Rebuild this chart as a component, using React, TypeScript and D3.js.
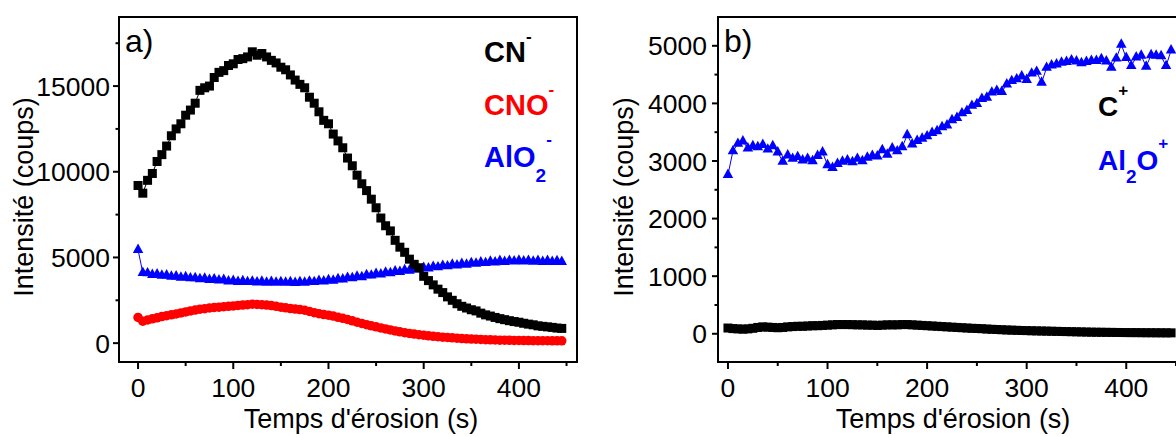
import React from "react";
import * as d3 from "d3";

const FONT = "'Liberation Sans', Arial, Helvetica, sans-serif";

// time (s)
const time = [
  0, 5, 10, 15, 20, 25, 30, 35, 40, 45, 50, 55, 60, 65, 70, 75, 80, 85, 90, 95,
  100, 105, 110, 115, 120, 125, 130, 135, 140, 145, 150, 155, 160, 165, 170, 175, 180, 185, 190, 195,
  200, 205, 210, 215, 220, 225, 230, 235, 240, 245, 250, 255, 260, 265, 270, 275, 280, 285, 290, 295,
  300, 305, 310, 315, 320, 325, 330, 335, 340, 345, 350, 355, 360, 365, 370, 375, 380, 385, 390, 395,
  400, 405, 410, 415, 420, 425, 430, 435, 440, 445,
];

// panel a)
const cnMinus = [
  9200, 8750, 9500, 9900, 10600, 11000, 11500, 12100, 12500, 12800, 13300, 13600, 14000, 14750, 14900, 15000, 15500, 15800, 15900, 16200,
  16300, 16550, 16600, 16700, 17000, 16800, 16900, 16700, 16500, 16350, 16100, 15950, 15650, 15350, 15100, 14900, 14350, 14000, 13500, 13000,
  12800, 12200, 11800, 11400, 10800, 10350, 9800, 9300, 8900, 8400, 7900, 7300, 6850, 6550, 6000, 5600, 5300, 4900, 4600, 4400,
  3900, 3650, 3400, 3150, 2950, 2700, 2500, 2300, 2150, 2050, 1950, 1880, 1750, 1650, 1580, 1500, 1430, 1370, 1310, 1260,
  1220, 1160, 1110, 1070, 1010, 980, 950, 920, 880, 860,
];
const cnoMinus = [
  1500, 1280, 1350, 1420, 1480, 1550, 1600, 1650, 1700, 1760, 1820, 1880, 1930, 1980, 2010, 2050, 2080, 2100, 2130, 2150,
  2170, 2200, 2220, 2240, 2270, 2260, 2240, 2220, 2190, 2150, 2100, 2060, 2020, 1990, 1960, 1920, 1850, 1780, 1720, 1670,
  1630, 1580, 1510, 1450, 1380, 1300, 1220, 1150, 1080, 1010, 950, 890, 830, 770, 710, 660, 610, 570, 530, 490,
  460, 430, 400, 380, 350, 330, 310, 290, 270, 250, 240, 230, 215, 205, 195, 185, 175, 170, 165, 160,
  155, 150, 148, 145, 143, 140, 140, 138, 136, 135,
];
const alo2Minus = [
  5450, 4100, 4080, 3990, 4020, 3940, 3960, 3880, 3900, 3830, 3860, 3790, 3800, 3740, 3770, 3700, 3730, 3670, 3690, 3610,
  3640, 3580, 3620, 3570, 3600, 3550, 3590, 3540, 3580, 3530, 3570, 3530, 3560, 3520, 3570, 3540, 3600, 3570, 3640, 3610,
  3680, 3650, 3740, 3720, 3820, 3800, 3890, 3860, 3970, 3950, 4050, 4010, 4120, 4090, 4190, 4160, 4260, 4230, 4320, 4300,
  4390, 4360, 4460, 4430, 4520, 4490, 4580, 4540, 4630, 4590, 4680, 4640, 4720, 4680, 4760, 4720, 4800, 4750, 4810, 4770,
  4820, 4770, 4810, 4760, 4810, 4750, 4800, 4740, 4790, 4750,
];

// panel b)
const cPlus = [
  100, 90, 85, 80, 85, 95, 110, 120, 115, 110, 105, 110, 120, 125, 130, 130, 135, 140, 140, 145,
  150, 155, 160, 160, 160, 158, 155, 155, 150, 150, 145, 150, 155, 155, 155, 160, 160, 155, 150, 145,
  140, 135, 130, 125, 120, 115, 110, 105, 100, 95, 92, 88, 82, 78, 74, 70, 66, 63, 60, 57,
  55, 52, 50, 48, 46, 44, 42, 40, 38, 36, 34, 32, 30, 28, 27, 26, 25, 24, 23, 22,
  21, 20, 20, 19, 18, 18, 17, 17, 16, 16,
];
const al2oPlus = [
  2760, 3170, 3300, 3340, 3220, 3260, 3240, 3280, 3200, 3260, 3150, 2990, 3100, 3040, 3070, 3010, 3040, 3000, 3090, 3150,
  2930, 2880, 2950, 2990, 3010, 2980, 3040, 3000, 3060, 3090, 3080, 3190, 3110, 3220, 3170, 3240, 3450, 3290, 3350, 3390,
  3430, 3490, 3520, 3590, 3620, 3710, 3750, 3830, 3870, 3960, 3990, 4080, 4100, 4190, 4220, 4200, 4330, 4390, 4420, 4470,
  4410, 4520, 4550, 4360, 4620, 4660, 4680, 4710, 4720, 4750, 4730, 4700, 4720, 4740, 4740, 4770, 4730, 4620, 4780, 5020,
  4790, 4650, 4800, 4830, 4640, 4840, 4830, 4820, 4650, 4920,
];

const xMajor = [0, 100, 200, 300, 400];
const xMinor = [50, 150, 250, 350, 450];
const yMajorA = [0, 5000, 10000, 15000];
const yMinorA = [2500, 7500, 12500, 17500];
const yMajorB = [0, 1000, 2000, 3000, 4000, 5000];
const yMinorB = [500, 1500, 2500, 3500, 4500];

type Series = { values: number[]; color: string; shape: "square" | "circle" | "triangle"; size: number };

function Marker({ shape, cx, cy, size, color }: { shape: string; cx: number; cy: number; size: number; color: string }) {
  if (shape === "square")
    return <rect x={cx - size / 2} y={cy - size / 2} width={size} height={size} fill={color} />;
  if (shape === "circle") return <circle cx={cx} cy={cy} r={size / 2} fill={color} />;
  const h = size * 0.9;
  const pts = `${cx},${cy - (h * 2) / 3} ${cx + size / 2},${cy + h / 3} ${cx - size / 2},${cy + h / 3}`;
  return <polygon points={pts} fill={color} />;
}

function Panel(props: {
  left: number; top: number; right: number; bottom: number;
  xDomain: [number, number]; yDomain: [number, number];
  yMajor: number[]; yMinor: number[];
  series: Series[]; tag: string; yTitleX: number; xTitleX: number; labelGap: number;
  children?: React.ReactNode;
}) {
  const { left, top, right, bottom } = props;
  const x = d3.scaleLinear().domain(props.xDomain).range([left, right]);
  const y = d3.scaleLinear().domain(props.yDomain).range([bottom, top]);
  const line = d3.line<number>().x((_, i) => x(time[i])).y((d) => y(d));
  const fs = 26.5;
  return (
    <g>
      {props.series.map((s, si) => (
        <g key={si}>
          <path d={line(s.values) || ""} fill="none" stroke={s.color} strokeWidth={1} />
          {s.values.map((v, i) => (
            <Marker key={i} shape={s.shape} cx={x(time[i])} cy={y(v)} size={s.size} color={s.color} />
          ))}
        </g>
      ))}
      <rect x={left} y={top} width={right - left} height={bottom - top} fill="none" stroke="#000" strokeWidth={2} />
      {xMajor.map((t) => (
        <g key={"xm" + t}>
          <line x1={x(t)} x2={x(t)} y1={bottom} y2={bottom + 7} stroke="#000" strokeWidth={2} />
          <text x={x(t)} y={397} textAnchor="middle" fontSize={fs} fontFamily={FONT}>{t}</text>
        </g>
      ))}
      {xMinor.map((t) => (
        <line key={"xn" + t} x1={x(t)} x2={x(t)} y1={bottom} y2={bottom + 4} stroke="#000" strokeWidth={2} />
      ))}
      {props.yMajor.map((v) => (
        <g key={"ym" + v}>
          <line x1={left - 6} x2={left} y1={y(v)} y2={y(v)} stroke="#000" strokeWidth={2} />
          <text x={left - props.labelGap} y={y(v)} dy="0.36em" textAnchor="end" fontSize={fs} fontFamily={FONT}>{v}</text>
        </g>
      ))}
      {props.yMinor.map((v) => (
        <line key={"yn" + v} x1={left - 3.5} x2={left} y1={y(v)} y2={y(v)} stroke="#000" strokeWidth={2} />
      ))}
      <text x={props.xTitleX} y={428} textAnchor="middle" fontSize={27} fontFamily={FONT}>Temps d'érosion (s)</text>
      <text transform={`translate(${props.yTitleX},197) rotate(-90)`} textAnchor="middle" fontSize={27} fontFamily={FONT}>
        Intensité (coups)
      </text>
      <text x={left + 6} y={52} fontSize={32} fontFamily={FONT}>{props.tag}</text>
      {props.children}
    </g>
  );
}

export default function App() {
  return (
    <svg width={1176} height={437} style={{ position: "absolute", left: 0, top: 0, background: "#fff" }}>
      <Panel
        left={119} top={17} right={577} bottom={362}
        xDomain={[-20, 461]} yDomain={[-1100, 19030]}
        yMajor={yMajorA} yMinor={yMinorA}
        series={[
          { values: cnoMinus, color: "#ff0000", shape: "circle", size: 9.5 },
          { values: alo2Minus, color: "#0000ff", shape: "triangle", size: 10.5 },
          { values: cnMinus, color: "#000000", shape: "square", size: 9 },
        ]}
        tag="a)" yTitleX={33} xTitleX={361} labelGap={9}
      >
        <g fontFamily={FONT} fontWeight="bold" fontSize={29}>
          <text x={484} y={62} fill="#000">CN<tspan dy={-20} fontSize={17}>-</tspan></text>
          <text x={484} y={115} fill="#ff0000">CNO<tspan dy={-20} fontSize={17}>-</tspan></text>
          <text x={484} y={167} fill="#0000ff">AlO<tspan dy={15} fontSize={19}>2</tspan><tspan dy={-37} fontSize={17}>-</tspan></text>
        </g>
      </Panel>
      <Panel
        left={718} top={17} right={1186} bottom={362}
        xDomain={[-10, 460]} yDomain={[-490, 5500]}
        yMajor={yMajorB} yMinor={yMinorB}
        series={[
          { values: al2oPlus, color: "#0000ff", shape: "triangle", size: 10.5 },
          { values: cPlus, color: "#000000", shape: "square", size: 9 },
        ]}
        tag="b)" yTitleX={633} xTitleX={953} labelGap={11}
      >
        <g fontFamily={FONT} fontWeight="bold" fontSize={28}>
          <text x={1098} y={116} fill="#000">C<tspan dy={-20} fontSize={17}>+</tspan></text>
          <text x={1098} y={170} fill="#0000ff">Al<tspan dy={13} fontSize={19}>2</tspan><tspan dy={-13}>O</tspan><tspan dy={-21} fontSize={17}>+</tspan></text>
        </g>
      </Panel>
    </svg>
  );
}
